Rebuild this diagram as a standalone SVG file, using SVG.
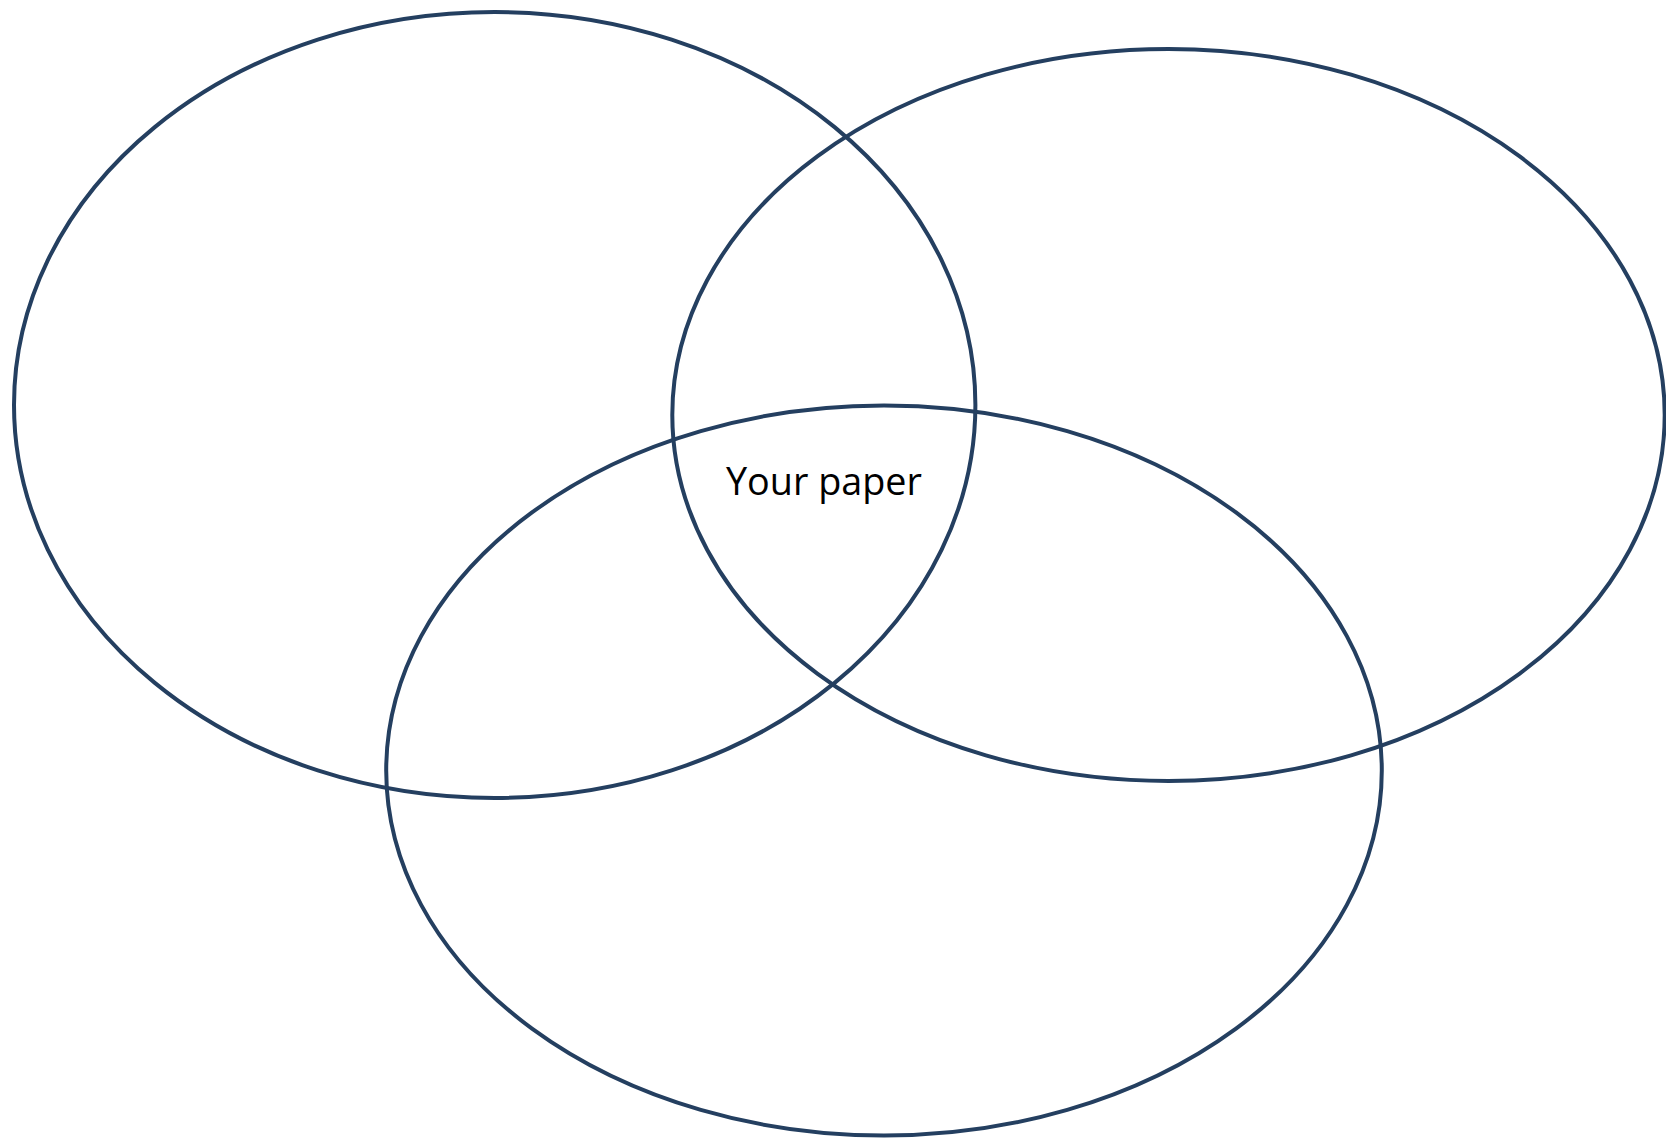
<svg xmlns="http://www.w3.org/2000/svg" width="1666" height="1139" viewBox="0 0 1666 1139">
<style>
.e{fill:none;stroke:#243F60;stroke-width:4}
.t{font-family:"Open Sans","Liberation Sans",sans-serif;font-size:38px;fill:#000}
</style>
<rect width="1666" height="1139" fill="#fff"/>
<g id="set-a"><ellipse class="e" cx="494.7" cy="405" rx="480.7" ry="393"/></g>
<g id="set-b"><ellipse class="e" cx="1168.5" cy="415" rx="496.2" ry="366"/></g>
<g id="set-c"><ellipse class="e" cx="884" cy="770.5" rx="497.8" ry="365"/></g>
<g id="label"><text class="t" x="726" y="495" textLength="196" lengthAdjust="spacingAndGlyphs">Your paper</text></g>
<g id="connectors"/>
</svg>
